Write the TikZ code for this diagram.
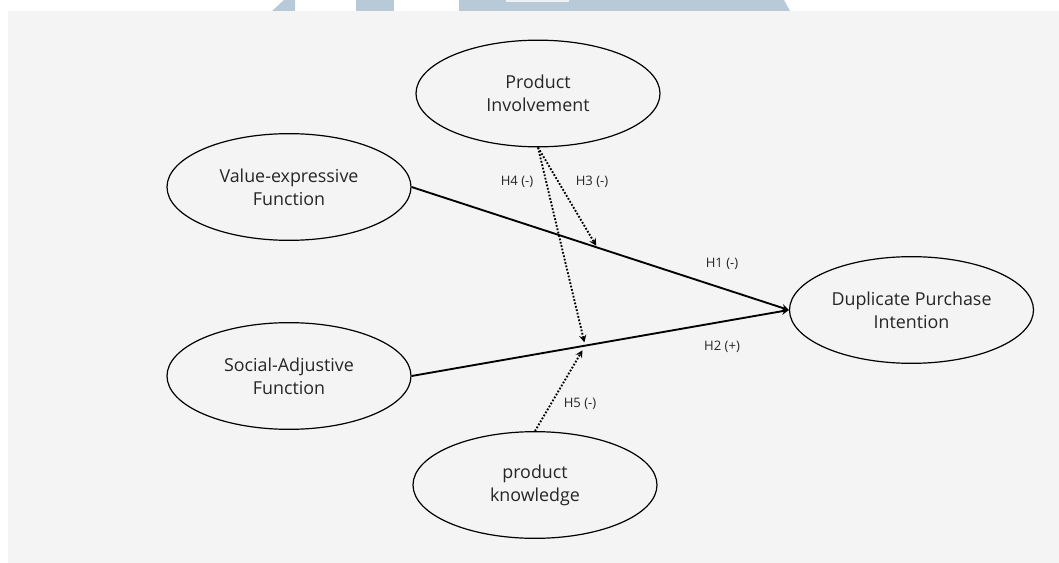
\documentclass[tikz,border=0pt]{standalone}
\usepackage{fontspec}
\setmainfont{Open Sans}
\usetikzlibrary{shapes.geometric}
\definecolor{panel}{HTML}{F4F4F4}
\definecolor{wmark}{HTML}{B8C9D8}
\definecolor{wmarkhi}{HTML}{EDF1F5}

\begin{document}
\begin{tikzpicture}[x=0.75pt, y=-0.75pt,
  var/.style={ellipse, draw, line width=0.9pt, minimum width=183pt, minimum height=80pt, inner sep=0pt, align=center, font=\fontsize{13.4}{17.2}\selectfont, text=black!85},
  hyp/.style={font=\fontsize{9.8}{11}\selectfont, text=black!85},
  effect/.style={->, >=stealth, line width=1.4pt},
  moder/.style={->, >=stealth, line width=1.4pt, dash pattern=on 1.3pt off 1.3pt}]
\useasboundingbox (0,0) rectangle (1059,563);
\fill[white] (0,0) rectangle (1059,563);
% watermark cut off at the top
\fill[wmark] (284,0) -- (295,0) -- (295,11) -- (272,11) -- cycle;
\fill[wmark] (356,0) rectangle (394,11);
\fill[wmark] (459,0) -- (784,0) -- (790,11) -- (459,11) -- cycle;
\fill[wmarkhi] (506,0) rectangle (569,2.3);
\fill[panel] (8,11) rectangle (1059,563);

% constructs
\node[var] (PI) at (538,93.5) {Product\\Involvement};
\node[var] (VE) at (289,187) {Value-expressive\\Function};
\node[var] (SA) at (289,376) {Social-Adjustive\\Function};
\node[var] (PK) at (535,485) {product\\knowledge};
\node[var] (DPI) at (911.5,310) {Duplicate Purchase\\Intention};

% direct effects
\draw[effect] (VE.east) -- coordinate[pos=0.492] (h1mid) (DPI.west);
\draw[effect] (SA.east) -- coordinate[pos=0.46] (h2mid) (DPI.west);

% moderating effects
\draw[moder, shorten >=1.5pt] (PI.south) -- (h1mid);
\draw[moder, shorten >=2.5pt] (PI.south) -- (h2mid);
\draw[moder, shorten >=4pt] (PK.north) -- (h2mid);

\node[hyp] (l4) at (517,182) {H4 (-)};
\node[hyp] (l3) at (592,182) {H3 (-)};
\node[hyp] (l1) at (722,264) {H1 (-)};
\node[hyp] (l2) at (722,347) {H2 (+)};
\node[hyp] (l5) at (580,404) {H5 (-)};
\end{tikzpicture}
\end{document}
